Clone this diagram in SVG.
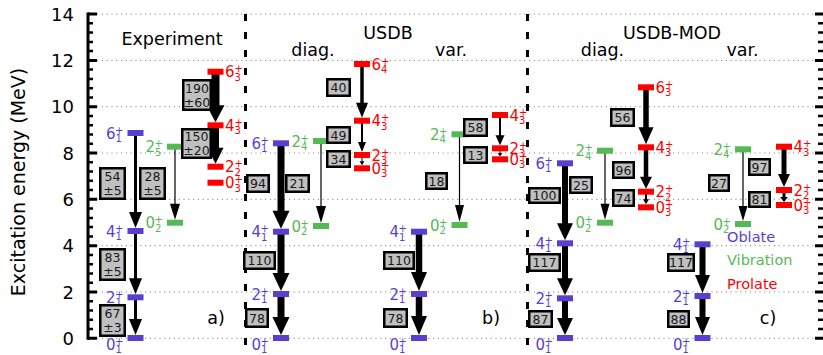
<svg xmlns="http://www.w3.org/2000/svg" width="823" height="355" viewBox="0 0 823 355">
<style>
text{font-family:"DejaVu Sans","Liberation Sans",sans-serif}
.o{fill:#5a3fcf}
.g{fill:#55b955}
.r{fill:#ff0000}
.lb{font-size:15px}
.s{font-size:10px}
.box rect{fill:#c0c0c0;stroke:#000;stroke-width:2.5}
.box text{font-size:12.5px;text-anchor:middle;fill:#1a1a1a}
.grid{stroke:#888;stroke-width:1;stroke-dasharray:1.2 3.6;fill:none}
.sep{stroke:#000;stroke-width:3;stroke-dasharray:7 11;fill:none}
.ax{stroke:#000;stroke-width:3;fill:none}
.tk{font-size:18px;text-anchor:end}
.ttl{font-size:17.5px;text-anchor:middle}
.leg{font-size:14.5px}
#arrows line{stroke:#000}
#arrows polygon{fill:#000}
</style>

<g id="frame">
<path class="grid" d="M97 338.3H815M97 292H815M97 245.7H815M97 199.3H815M97 153H815M97 106.7H815M97 60.4H815M97 14.1H815"/>
<path class="sep" d="M245.5 14V346M527.5 14V346"/>
<path class="ax" d="M88 12.5V339.8"/>
<path class="ax" d="M88 338.3H97M88 292H97M88 245.7H97M88 199.3H97M88 153H97M88 106.7H97M88 60.4H97M88 14.1H97"/>
<path stroke="#000" stroke-width="2.5" d="M88 329H93M88 319.8H93M88 310.5H93M88 301.2H93M88 282.7H93M88 273.5H93M88 264.2H93M88 254.9H93M88 236.4H93M88 227.1H93M88 217.9H93M88 208.6H93M88 190.1H93M88 180.8H93M88 171.5H93M88 162.3H93M88 143.8H93M88 134.5H93M88 125.2H93M88 116H93M88 97.4H93M88 88.2H93M88 78.9H93M88 69.6H93M88 51.1H93M88 41.9H93M88 32.6H93M88 23.3H93"/>
<path stroke="#000" stroke-width="3" d="M815 338.3H823M815 292H823M815 245.7H823M815 199.3H823M815 153H823M815 106.7H823M815 60.4H823M815 14.1H823"/>
<path stroke="#000" stroke-width="2.5" d="M818 329H823M818 319.8H823M818 310.5H823M818 301.2H823M818 282.7H823M818 273.5H823M818 264.2H823M818 254.9H823M818 236.4H823M818 227.1H823M818 217.9H823M818 208.6H823M818 190.1H823M818 180.8H823M818 171.5H823M818 162.3H823M818 143.8H823M818 134.5H823M818 125.2H823M818 116H823M818 97.4H823M818 88.2H823M818 78.9H823M818 69.6H823M818 51.1H823M818 41.9H823M818 32.6H823M818 23.3H823"/>
<text class="tk" x="74" y="344.8">0</text>
<text class="tk" x="74" y="298.5">2</text>
<text class="tk" x="74" y="252.2">4</text>
<text class="tk" x="74" y="205.8">6</text>
<text class="tk" x="74" y="159.5">8</text>
<text class="tk" x="74" y="113.2">10</text>
<text class="tk" x="74" y="66.9">12</text>
<text class="tk" x="74" y="20.6">14</text>
<text font-size="19" text-anchor="middle" transform="translate(25 182) rotate(-90)">Excitation energy (MeV)</text>
<text class="ttl" x="172" y="44.5">Experiment</text>
<text class="ttl" x="388" y="39">USDB</text>
<text class="ttl" x="313" y="56">diag.</text>
<text class="ttl" x="451" y="56">var.</text>
<text class="ttl" x="672" y="39">USDB-MOD</text>
<text class="ttl" x="602.5" y="56">diag.</text>
<text class="ttl" x="742.5" y="56">var.</text>
<text class="ttl" x="216" y="324">a)</text>
<text class="ttl" x="491" y="324">b)</text>
<text class="ttl" x="768" y="324">c)</text>
<text class="leg o" x="727" y="242">Oblate</text>
<text class="leg g" x="727" y="265">Vibration</text>
<text class="leg r" x="727" y="288.5">Prolate</text>
</g>

<g id="arrows">
<line x1="135.5" y1="133" x2="135.5" y2="213" stroke-width="3"/><polygon points="129,212 142,212 135.5,228"/>
<line x1="135.5" y1="231" x2="135.5" y2="279.3" stroke-width="3"/><polygon points="129,278.3 142,278.3 135.5,294.3"/>
<line x1="135.5" y1="297.3" x2="135.5" y2="320" stroke-width="3"/><polygon points="129,319 142,319 135.5,335"/>
<line x1="175" y1="146.7" x2="175" y2="204.7" stroke-width="1.2"/><polygon points="170,203.7 180,203.7 175,219.7"/>
<line x1="215.5" y1="71.7" x2="215.5" y2="106.3" stroke-width="8"/><polygon points="206.5,105.3 224.5,105.3 215.5,122.3"/>
<line x1="215.5" y1="125.3" x2="215.5" y2="148.7" stroke-width="7"/><polygon points="207.5,147.7 223.5,147.7 215.5,163.7"/>
<line x1="281" y1="143.3" x2="281" y2="211.7" stroke-width="7"/><polygon points="272.5,210.7 289.5,210.7 281,228.7"/>
<line x1="281" y1="231.7" x2="281" y2="274" stroke-width="7"/><polygon points="272.5,273 289.5,273 281,291"/>
<line x1="281" y1="294" x2="281" y2="318" stroke-width="7"/><polygon points="272.5,317 289.5,317 281,335"/>
<line x1="321" y1="141" x2="321" y2="207" stroke-width="1.2"/><polygon points="316,206 326,206 321,223"/>
<line x1="362" y1="64" x2="362" y2="103.7" stroke-width="3.5"/><polygon points="356,102.7 368,102.7 362,117.7"/>
<line x1="362" y1="120.7" x2="362" y2="143" stroke-width="2"/><polygon points="358,142 366,142 362,152"/>
<line x1="362" y1="155" x2="362" y2="162" stroke-width="1"/><polygon points="359.5,161.3 364.5,161.3 362,165.3"/>
<line x1="419" y1="231.7" x2="419" y2="273" stroke-width="6.5"/><polygon points="411,272 427,272 419,291"/>
<line x1="419" y1="294" x2="419" y2="317" stroke-width="6.5"/><polygon points="411,316 427,316 419,335"/>
<line x1="459.5" y1="134.3" x2="459.5" y2="206" stroke-width="1.2"/><polygon points="455,205 464,205 459.5,222"/>
<line x1="500" y1="115" x2="500" y2="136.3" stroke-width="2"/><polygon points="495.5,135.3 504.5,135.3 500,145.3"/>
<line x1="500" y1="148.3" x2="500" y2="154" stroke-width="1"/><polygon points="497.5,153.3 502.5,153.3 500,156.3"/>
<line x1="565" y1="163.3" x2="565" y2="224.3" stroke-width="6"/><polygon points="557,223.3 573,223.3 565,240.3"/>
<line x1="565" y1="243.3" x2="565" y2="279.3" stroke-width="6"/><polygon points="557,278.3 573,278.3 565,295.3"/>
<line x1="565" y1="298.3" x2="565" y2="319" stroke-width="6"/><polygon points="557,318 573,318 565,335"/>
<line x1="605" y1="150.7" x2="605" y2="204.7" stroke-width="1.2"/><polygon points="600.5,203.7 609.5,203.7 605,219.7"/>
<line x1="646" y1="87.3" x2="646" y2="128.3" stroke-width="5.5"/><polygon points="638.5,127.3 653.5,127.3 646,144.3"/>
<line x1="646" y1="147.3" x2="646" y2="177.7" stroke-width="4.5"/><polygon points="640,176.7 652,176.7 646,188.7"/>
<line x1="646" y1="191.7" x2="646" y2="200.3" stroke-width="2"/><polygon points="643,199.3 649,199.3 646,204.3"/>
<line x1="702.5" y1="244.3" x2="702.5" y2="276" stroke-width="6"/><polygon points="695,275 710,275 702.5,293"/>
<line x1="702.5" y1="296" x2="702.5" y2="318" stroke-width="6"/><polygon points="695,317 710,317 702.5,335"/>
<line x1="743" y1="149.3" x2="743" y2="207" stroke-width="1.2"/><polygon points="738.5,206 747.5,206 743,221"/>
<line x1="784" y1="146.7" x2="784" y2="175" stroke-width="5"/><polygon points="778,174 790,174 784,187"/>
<line x1="784" y1="190" x2="784" y2="198" stroke-width="3"/><polygon points="780,197 788,197 784,202"/>
</g>

<g id="exp-o0" class="o"><rect x="127.5" y="335" width="16" height="6"/><text class="lb"><tspan x="106" y="349.5">0</tspan><tspan class="s" x="115" y="344.5">+</tspan><tspan class="s" x="115.5" y="353">1</tspan></text></g>
<g id="exp-o2" class="o"><rect x="127.5" y="294.3" width="16" height="6"/><text class="lb"><tspan x="106" y="302.8">2</tspan><tspan class="s" x="115" y="297.8">+</tspan><tspan class="s" x="115.5" y="306.3">1</tspan></text></g>
<g id="exp-o4" class="o"><rect x="127.5" y="228" width="16" height="6"/><text class="lb"><tspan x="106" y="236.5">4</tspan><tspan class="s" x="115" y="231.5">+</tspan><tspan class="s" x="115.5" y="240">1</tspan></text></g>
<g id="exp-o6" class="o"><rect x="127.5" y="130" width="16" height="6"/><text class="lb"><tspan x="106" y="138.5">6</tspan><tspan class="s" x="115" y="133.5">+</tspan><tspan class="s" x="115.5" y="142">1</tspan></text></g>
<g id="exp-g2" class="g"><rect x="167" y="143.7" width="16" height="6"/><text class="lb"><tspan x="145.5" y="152.2">2</tspan><tspan class="s" x="154.5" y="147.2">+</tspan><tspan class="s" x="155" y="155.7">5</tspan></text></g>
<g id="exp-g0" class="g"><rect x="167" y="219.7" width="16" height="6"/><text class="lb"><tspan x="145.5" y="228.2">0</tspan><tspan class="s" x="154.5" y="223.2">+</tspan><tspan class="s" x="155" y="231.7">2</tspan></text></g>
<g id="exp-r6" class="r"><rect x="207.5" y="68.7" width="16" height="6"/><text class="lb"><tspan x="225" y="77.2">6</tspan><tspan class="s" x="234.5" y="72.2">+</tspan><tspan class="s" x="234.5" y="80.7">3</tspan></text></g>
<g id="exp-r4" class="r"><rect x="207.5" y="122.3" width="16" height="6"/><text class="lb"><tspan x="225" y="130.8">4</tspan><tspan class="s" x="234.5" y="125.8">+</tspan><tspan class="s" x="234.5" y="134.3">3</tspan></text></g>
<g id="exp-r2" class="r"><rect x="207.5" y="163.7" width="16" height="6"/><text class="lb"><tspan x="225" y="172.2">2</tspan><tspan class="s" x="234.5" y="167.2">+</tspan><tspan class="s" x="234.5" y="175.7">2</tspan></text></g>
<g id="exp-r0" class="r"><rect x="207.5" y="179.7" width="16" height="6"/><text class="lb"><tspan x="225" y="188.2">0</tspan><tspan class="s" x="234.5" y="183.2">+</tspan><tspan class="s" x="234.5" y="191.7">3</tspan></text></g>

<g id="ud-o0" class="o"><rect x="273" y="335" width="16" height="6"/><text class="lb"><tspan x="251.5" y="349.5">0</tspan><tspan class="s" x="260.5" y="344.5">+</tspan><tspan class="s" x="261" y="353">1</tspan></text></g>
<g id="ud-o2" class="o"><rect x="273" y="291" width="16" height="6"/><text class="lb"><tspan x="251.5" y="299.5">2</tspan><tspan class="s" x="260.5" y="294.5">+</tspan><tspan class="s" x="261" y="303">1</tspan></text></g>
<g id="ud-o4" class="o"><rect x="273" y="228.7" width="16" height="6"/><text class="lb"><tspan x="251.5" y="237.2">4</tspan><tspan class="s" x="260.5" y="232.2">+</tspan><tspan class="s" x="261" y="240.7">1</tspan></text></g>
<g id="ud-o6" class="o"><rect x="273" y="140.3" width="16" height="6"/><text class="lb"><tspan x="251.5" y="148.8">6</tspan><tspan class="s" x="260.5" y="143.8">+</tspan><tspan class="s" x="261" y="152.3">1</tspan></text></g>
<g id="ud-g2" class="g"><rect x="313" y="138" width="16" height="6"/><text class="lb"><tspan x="291.5" y="146.5">2</tspan><tspan class="s" x="300.5" y="141.5">+</tspan><tspan class="s" x="301" y="150">4</tspan></text></g>
<g id="ud-g0" class="g"><rect x="313" y="223" width="16" height="6"/><text class="lb"><tspan x="291.5" y="231.5">0</tspan><tspan class="s" x="300.5" y="226.5">+</tspan><tspan class="s" x="301" y="235">2</tspan></text></g>
<g id="ud-r6" class="r"><rect x="354" y="61" width="16" height="6"/><text class="lb"><tspan x="371.5" y="69.5">6</tspan><tspan class="s" x="381" y="64.5">+</tspan><tspan class="s" x="381" y="73">4</tspan></text></g>
<g id="ud-r4" class="r"><rect x="354" y="117.7" width="16" height="6"/><text class="lb"><tspan x="371.5" y="126.2">4</tspan><tspan class="s" x="381" y="121.2">+</tspan><tspan class="s" x="381" y="129.7">3</tspan></text></g>
<g id="ud-r2" class="r"><rect x="354" y="152" width="16" height="6"/><text class="lb"><tspan x="371.5" y="160.5">2</tspan><tspan class="s" x="381" y="155.5">+</tspan><tspan class="s" x="381" y="164">3</tspan></text></g>
<g id="ud-r0" class="r"><rect x="354" y="165.3" width="16" height="6"/><text class="lb"><tspan x="371.5" y="173.8">0</tspan><tspan class="s" x="381" y="168.8">+</tspan><tspan class="s" x="381" y="177.3">3</tspan></text></g>

<g id="uv-o0" class="o"><rect x="411" y="335" width="16" height="6"/><text class="lb"><tspan x="389.5" y="349.5">0</tspan><tspan class="s" x="398.5" y="344.5">+</tspan><tspan class="s" x="399" y="353">1</tspan></text></g>
<g id="uv-o2" class="o"><rect x="411" y="291" width="16" height="6"/><text class="lb"><tspan x="389.5" y="299.5">2</tspan><tspan class="s" x="398.5" y="294.5">+</tspan><tspan class="s" x="399" y="303">1</tspan></text></g>
<g id="uv-o4" class="o"><rect x="411" y="228.7" width="16" height="6"/><text class="lb"><tspan x="389.5" y="237.2">4</tspan><tspan class="s" x="398.5" y="232.2">+</tspan><tspan class="s" x="399" y="240.7">1</tspan></text></g>
<g id="uv-g2" class="g"><rect x="451.5" y="131.3" width="16" height="6"/><text class="lb"><tspan x="430" y="139.8">2</tspan><tspan class="s" x="439" y="134.8">+</tspan><tspan class="s" x="439.5" y="143.3">4</tspan></text></g>
<g id="uv-g0" class="g"><rect x="451.5" y="222" width="16" height="6"/><text class="lb"><tspan x="430" y="230.5">0</tspan><tspan class="s" x="439" y="225.5">+</tspan><tspan class="s" x="439.5" y="234">2</tspan></text></g>
<g id="uv-r4" class="r"><rect x="492" y="112" width="16" height="6"/><text class="lb"><tspan x="509.5" y="120.5">4</tspan><tspan class="s" x="519" y="115.5">+</tspan><tspan class="s" x="519" y="124">3</tspan></text></g>
<g id="uv-r2" class="r"><rect x="492" y="145.3" width="16" height="6"/><text class="lb"><tspan x="509.5" y="153.8">2</tspan><tspan class="s" x="519" y="148.8">+</tspan><tspan class="s" x="519" y="157.3">3</tspan></text></g>
<g id="uv-r0" class="r"><rect x="492" y="156.3" width="16" height="6"/><text class="lb"><tspan x="509.5" y="164.8">0</tspan><tspan class="s" x="519" y="159.8">+</tspan><tspan class="s" x="519" y="168.3">3</tspan></text></g>

<g id="md-o0" class="o"><rect x="557" y="335" width="16" height="6"/><text class="lb"><tspan x="535.5" y="349.5">0</tspan><tspan class="s" x="544.5" y="344.5">+</tspan><tspan class="s" x="545" y="353">1</tspan></text></g>
<g id="md-o2" class="o"><rect x="557" y="295.3" width="16" height="6"/><text class="lb"><tspan x="535.5" y="303.8">2</tspan><tspan class="s" x="544.5" y="298.8">+</tspan><tspan class="s" x="545" y="307.3">1</tspan></text></g>
<g id="md-o4" class="o"><rect x="557" y="240.3" width="16" height="6"/><text class="lb"><tspan x="535.5" y="248.8">4</tspan><tspan class="s" x="544.5" y="243.8">+</tspan><tspan class="s" x="545" y="252.3">1</tspan></text></g>
<g id="md-o6" class="o"><rect x="557" y="160.3" width="16" height="6"/><text class="lb"><tspan x="535.5" y="168.8">6</tspan><tspan class="s" x="544.5" y="163.8">+</tspan><tspan class="s" x="545" y="172.3">1</tspan></text></g>
<g id="md-g2" class="g"><rect x="597" y="147.7" width="16" height="6"/><text class="lb"><tspan x="575.5" y="156.2">2</tspan><tspan class="s" x="584.5" y="151.2">+</tspan><tspan class="s" x="585" y="159.7">4</tspan></text></g>
<g id="md-g0" class="g"><rect x="597" y="219.7" width="16" height="6"/><text class="lb"><tspan x="575.5" y="228.2">0</tspan><tspan class="s" x="584.5" y="223.2">+</tspan><tspan class="s" x="585" y="231.7">2</tspan></text></g>
<g id="md-r6" class="r"><rect x="638" y="84.3" width="16" height="6"/><text class="lb"><tspan x="655.5" y="92.8">6</tspan><tspan class="s" x="665" y="87.8">+</tspan><tspan class="s" x="665" y="96.3">3</tspan></text></g>
<g id="md-r4" class="r"><rect x="638" y="144.3" width="16" height="6"/><text class="lb"><tspan x="655.5" y="152.8">4</tspan><tspan class="s" x="665" y="147.8">+</tspan><tspan class="s" x="665" y="156.3">3</tspan></text></g>
<g id="md-r2" class="r"><rect x="638" y="188.7" width="16" height="6"/><text class="lb"><tspan x="655.5" y="197.2">2</tspan><tspan class="s" x="665" y="192.2">+</tspan><tspan class="s" x="665" y="200.7">2</tspan></text></g>
<g id="md-r0" class="r"><rect x="638" y="204.3" width="16" height="6"/><text class="lb"><tspan x="655.5" y="212.8">0</tspan><tspan class="s" x="665" y="207.8">+</tspan><tspan class="s" x="665" y="216.3">3</tspan></text></g>

<g id="mv-o0" class="o"><rect x="694.5" y="335" width="16" height="6"/><text class="lb"><tspan x="673" y="349.5">0</tspan><tspan class="s" x="682" y="344.5">+</tspan><tspan class="s" x="682.5" y="353">1</tspan></text></g>
<g id="mv-o2" class="o"><rect x="694.5" y="293" width="16" height="6"/><text class="lb"><tspan x="673" y="301.5">2</tspan><tspan class="s" x="682" y="296.5">+</tspan><tspan class="s" x="682.5" y="305">1</tspan></text></g>
<g id="mv-o4" class="o"><rect x="694.5" y="241.3" width="16" height="6"/><text class="lb"><tspan x="673" y="249.8">4</tspan><tspan class="s" x="682" y="244.8">+</tspan><tspan class="s" x="682.5" y="253.3">1</tspan></text></g>
<g id="mv-g2" class="g"><rect x="735" y="146.3" width="16" height="6"/><text class="lb"><tspan x="713.5" y="154.8">2</tspan><tspan class="s" x="722.5" y="149.8">+</tspan><tspan class="s" x="723" y="158.3">4</tspan></text></g>
<g id="mv-g0" class="g"><rect x="735" y="221" width="16" height="6"/><text class="lb"><tspan x="713.5" y="229.5">0</tspan><tspan class="s" x="722.5" y="224.5">+</tspan><tspan class="s" x="723" y="233">2</tspan></text></g>
<g id="mv-r4" class="r"><rect x="776" y="143.7" width="16" height="6"/><text class="lb"><tspan x="793.5" y="152.2">4</tspan><tspan class="s" x="803" y="147.2">+</tspan><tspan class="s" x="803" y="155.7">3</tspan></text></g>
<g id="mv-r2" class="r"><rect x="776" y="187" width="16" height="6"/><text class="lb"><tspan x="793.5" y="195.5">2</tspan><tspan class="s" x="803" y="190.5">+</tspan><tspan class="s" x="803" y="199">2</tspan></text></g>
<g id="mv-r0" class="r"><rect x="776" y="202" width="16" height="6"/><text class="lb"><tspan x="793.5" y="210.5">0</tspan><tspan class="s" x="803" y="205.5">+</tspan><tspan class="s" x="803" y="214">3</tspan></text></g>

<g id="b-e190" class="box"><rect x="183.25" y="80.25" width="27.5" height="29.5"/><text x="197" y="92.5">190</text><text x="197" y="106.5">±60</text></g>
<g id="b-e150" class="box"><rect x="182.25" y="129.25" width="28.5" height="28.5"/><text x="196.5" y="141">150</text><text x="196.5" y="155">±20</text></g>
<g id="b-e54" class="box"><rect x="100.25" y="168.25" width="24.5" height="30.5"/><text x="112.5" y="181">54</text><text x="112.5" y="195">±5</text></g>
<g id="b-e28" class="box"><rect x="140.25" y="168.25" width="24.5" height="30.5"/><text x="152.5" y="181">28</text><text x="152.5" y="195">±5</text></g>
<g id="b-e83" class="box"><rect x="100.25" y="249.25" width="24.5" height="30.5"/><text x="112.5" y="262">83</text><text x="112.5" y="276">±5</text></g>
<g id="b-e67" class="box"><rect x="100.25" y="305.25" width="24.5" height="30.5"/><text x="112.5" y="318">67</text><text x="112.5" y="332">±3</text></g>

<g id="b-u94" class="box"><rect x="247.25" y="175.25" width="21.5" height="16.5"/><text x="258" y="188">94</text></g>
<g id="b-u21" class="box"><rect x="286.25" y="175.25" width="22.5" height="16.5"/><text x="297.5" y="188">21</text></g>
<g id="b-u110d" class="box"><rect x="244.25" y="252.25" width="30.5" height="16.5"/><text x="259.5" y="265">110</text></g>
<g id="b-u78d" class="box"><rect x="246.25" y="309.25" width="21.5" height="17.5"/><text x="257" y="322.5">78</text></g>
<g id="b-u49" class="box"><rect x="327.25" y="127.25" width="22.5" height="15.5"/><text x="338.5" y="139.5">49</text></g>
<g id="b-u34" class="box"><rect x="327.25" y="151.25" width="22.5" height="15.5"/><text x="338.5" y="163.5">34</text></g>
<g id="b-u40" class="box"><rect x="327.25" y="79.25" width="22.5" height="16.5"/><text x="338.5" y="92">40</text></g>
<g id="b-u110v" class="box"><rect x="384.25" y="252.25" width="29.5" height="16.5"/><text x="399" y="265">110</text></g>
<g id="b-u78v" class="box"><rect x="384.25" y="309.25" width="22.5" height="17.5"/><text x="395.5" y="322.5">78</text></g>
<g id="b-u58" class="box"><rect x="464.25" y="119.25" width="22.5" height="16.5"/><text x="475.5" y="132">58</text></g>
<g id="b-u13" class="box"><rect x="464.25" y="147.25" width="22.5" height="15.5"/><text x="475.5" y="159.5">13</text></g>
<g id="b-u18" class="box"><rect x="426.25" y="173.25" width="20.5" height="15.5"/><text x="436.5" y="185.5">18</text></g>

<g id="b-m100" class="box"><rect x="529.25" y="188.25" width="30.5" height="14.5"/><text x="544.5" y="200">100</text></g>
<g id="b-m25" class="box"><rect x="570.25" y="177.25" width="21.5" height="15.5"/><text x="581" y="189.5">25</text></g>
<g id="b-m117d" class="box"><rect x="529.25" y="254.25" width="30.5" height="16.5"/><text x="544.5" y="267">117</text></g>
<g id="b-m87" class="box"><rect x="529.25" y="311.25" width="22.5" height="15.5"/><text x="540.5" y="323.5">87</text></g>
<g id="b-m96" class="box"><rect x="613.25" y="162.25" width="20.5" height="15.5"/><text x="623.5" y="174.5">96</text></g>
<g id="b-m74" class="box"><rect x="613.25" y="190.25" width="20.5" height="15.5"/><text x="623.5" y="202.5">74</text></g>
<g id="b-m56" class="box"><rect x="611.25" y="109.25" width="22.5" height="16.5"/><text x="622.5" y="122">56</text></g>
<g id="b-m117v" class="box"><rect x="668.25" y="254.25" width="25.5" height="16.5"/><text x="681" y="267">117</text></g>
<g id="b-m88" class="box"><rect x="668.25" y="311.25" width="20.5" height="15.5"/><text x="678.5" y="323.5">88</text></g>
<g id="b-m97" class="box"><rect x="749.25" y="159.25" width="20.5" height="15.5"/><text x="759.5" y="171.5">97</text></g>
<g id="b-m81" class="box"><rect x="749.25" y="192.25" width="20.5" height="14.5"/><text x="759.5" y="204">81</text></g>
<g id="b-m27" class="box"><rect x="709.25" y="175.25" width="19.5" height="15.5"/><text x="719" y="187.5">27</text></g>
</svg>
